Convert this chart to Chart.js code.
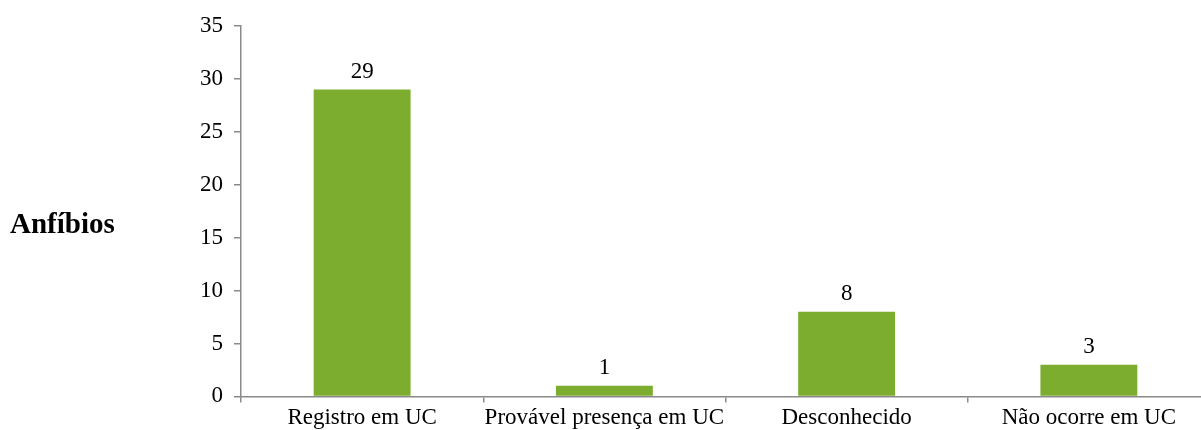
<!DOCTYPE html>
<html>
<head>
<meta charset="utf-8">
<script src="https://cdn.jsdelivr.net/npm/chart.js@4.4.1/dist/chart.umd.min.js"></script>
<style>
  html, body { margin: 0; padding: 0; background: #fff; overflow: hidden; }
  #wrap { width: 1201px; height: 430px; overflow: hidden; }
</style>
</head>
<body>
<div id="wrap">
  <canvas id="grafico" width="1215" height="434"></canvas>
</div>
<script>
const categorias = ["Registro em UC", "Provável presença em UC", "Desconhecido", "Não ocorre em UC"];
const valores = [29, 1, 8, 3];
const tituloGrupo = "Anfíbios";

const fonte = "'Liberation Serif', 'Times New Roman', serif";
const corBarra = "#7CAD2E";
const corEixo = "#8a8a8a";

// rotulos em cima das barras + titulo do grupo a esquerda
const rotulos = {
  id: "rotulos",
  afterDatasetsDraw(chart) {
    const ctx = chart.ctx;
    ctx.save();
    ctx.fillStyle = "#000";
    ctx.font = "23px " + fonte;
    ctx.textAlign = "center";
    ctx.textBaseline = "bottom";
    chart.getDatasetMeta(0).data.forEach((bar, i) => {
      ctx.fillText(String(valores[i]), bar.x, bar.y - 6);
    });
    ctx.font = "bold 29px " + fonte;
    ctx.textAlign = "left";
    ctx.textBaseline = "alphabetic";
    ctx.fillText(tituloGrupo, 10, 233);
    ctx.restore();
  },
};

new Chart(document.getElementById("grafico").getContext("2d"), {
  type: "bar",
  data: {
    labels: categorias,
    datasets: [
      {
        label: tituloGrupo,
        data: valores,
        backgroundColor: corBarra,
        categoryPercentage: 1,
        barPercentage: 0.4,
      },
    ],
  },
  options: {
    responsive: false,
    animation: false,
    layout: { padding: { top: 26, right: 5, bottom: 0, left: 0 } },
    plugins: {
      legend: { display: false },
      tooltip: { enabled: false },
    },
    scales: {
      x: {
        grid: {
          drawOnChartArea: false,
          drawTicks: true,
          tickLength: 6,
          lineWidth: 1.5,
          color: corEixo,
          offset: true,
        },
        border: { color: corEixo, width: 1.5 },
        ticks: {
          color: "#000",
          font: { family: fonte, size: 23 },
          padding: 2,
          maxRotation: 0,
          autoSkip: false,
        },
      },
      y: {
        min: 0,
        max: 35,
        afterFit: (s) => { s.width = 241; },
        grid: {
          drawOnChartArea: false,
          drawTicks: true,
          tickLength: 7,
          lineWidth: 1.5,
          color: corEixo,
        },
        border: { color: corEixo, width: 1.5 },
        ticks: {
          stepSize: 5,
          color: "#000",
          font: { family: fonte, size: 23 },
          padding: 11,
        },
      },
    },
  },
  plugins: [rotulos],
});
</script>
</body>
</html>
